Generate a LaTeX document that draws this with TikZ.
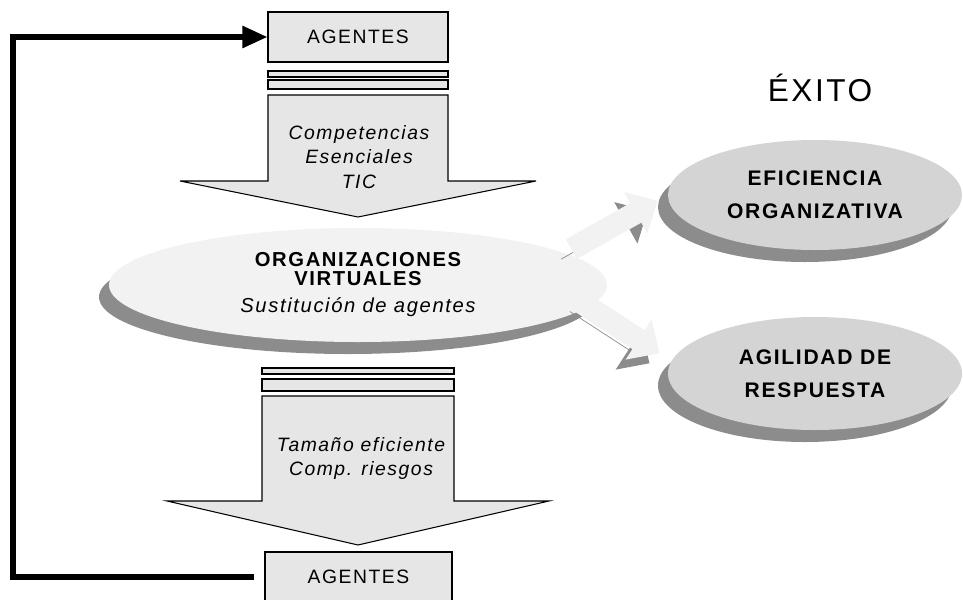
\documentclass[tikz,border=0pt]{standalone}
\usepackage{fontspec}
\setmainfont{Liberation Sans}[LetterSpace=8]
\usepackage{tikz}
\usetikzlibrary{arrows.meta,shapes.geometric,shadows,calc,positioning}
\usepackage{xcolor}
\definecolor{boxgray}{HTML}{E6E6E6}
\definecolor{palegray}{HTML}{F2F2F2}
\definecolor{midgray}{HTML}{D4D4D4}
\definecolor{shadowgray}{HTML}{8C8C8C}

\begin{document}
\begin{tikzpicture}[
	box/.style={draw, line width=0.6pt, fill=boxgray, minimum width=3.6cm, minimum height=1cm,
		inner sep=0pt, font=\fontsize{11}{12}\selectfont},
	bar/.style={draw, line width=0.6pt, fill=boxgray},
	downarr/.style={draw, line width=0.6pt, fill=boxgray},
	oval/.style={ellipse, inner sep=0pt, align=center,
		drop shadow={shadow xshift=-0.2cm, shadow yshift=-0.24cm, fill=shadowgray, opacity=1}},
	blk/.style={draw=palegray, line width=0.45cm,
		-{Triangle[length=0.5cm 0 0, width=0.92cm 0 0]},
		preaction={draw=shadowgray, transform canvas={xshift=-0.2cm, yshift=-0.2cm}}},
	fb/.style={line width=3.1pt, -{Triangle[length=0.5cm 0 0, width=0.42cm 0 0]}}
]
	\useasboundingbox (0,0) rectangle (19.26,-11.98);

	% Agentes (arriba)
	\node[box] (agtop) at (7.16, -0.74) {AGENTES};
	\draw[bar] (5.36, -1.42) rectangle (8.96, -1.54);
	\draw[bar] (5.36, -1.60) rectangle (8.96, -1.78);
	\draw[downarr] (5.36, -1.90) -- (8.96, -1.90) -- (8.96, -3.62) -- (10.72, -3.62)
		-- (7.16, -4.34) -- (3.60, -3.62) -- (5.36, -3.62) -- cycle;
	\node[align=center, font=\fontsize{11}{13.9}\selectfont\itshape] (comp) at (7.18, -3.14)
		{Competencias\\ Esenciales\\ TIC};

	% Organizaciones virtuales
	\node[oval, fill=palegray, minimum width=9.96cm, minimum height=2.28cm,
		font=\fontsize{11.5}{10.8}\selectfont] (org) at (7.16, -5.70)
		{\bfseries ORGANIZACIONES\\ \bfseries VIRTUALES\\[4.6pt] \itshape Sustitución de agentes};

	% Agentes (abajo)
	\draw[bar] (5.24, -7.36) rectangle (9.08, -7.48);
	\draw[bar] (5.24, -7.58) rectangle (9.08, -7.82);
	\draw[downarr] (5.24, -7.92) -- (9.08, -7.92) -- (9.08, -10.02) -- (10.98, -10.02)
		-- (7.16, -10.90) -- (3.34, -10.02) -- (5.24, -10.02) -- cycle;
	\node[align=center, font=\fontsize{11}{14.2}\selectfont\itshape] (tam) at (7.22, -9.17)
		{Tamaño eficiente\\ Comp. riesgos};
	\node[box, minimum width=3.74cm, minimum height=1.0cm] (agbot) at (7.17, -11.54) {AGENTES};

	% Exito
	\node[font=\fontsize{18}{20}\selectfont] (exito) at (16.4, -1.76) {ÉXITO};
	\node[oval, fill=midgray, minimum width=5.88cm, minimum height=2.2cm,
		font=\fontsize{12}{18.7}\selectfont\bfseries] (efi) at (16.3, -3.90)
		{EFICIENCIA\\ ORGANIZATIVA};
	\node[oval, fill=midgray, minimum width=5.88cm, minimum height=2.26cm,
		font=\fontsize{12}{18.7}\selectfont\bfseries] (agi) at (16.3, -7.47)
		{AGILIDAD DE\\ RESPUESTA};

	% Flechas de bloque
	\coordinate (a1) at ($(org.east)+(-0.72, 0.72)$);
	\coordinate (a2) at ($(org.east)+(-0.55, -0.33)$);
	\draw[blk, shorten >=0.23cm] (a1) -- (efi.west);
	\draw[blk, shorten >=0.28cm] (a2) -- (agi.175);

	% Realimentacion
	\coordinate (loop) at (0.26, 0);
	\draw[fb, shorten <=0.2cm] (agbot.west) -- (agbot.west -| loop)
		-- (agtop.west -| loop) -- (agtop.west);
\end{tikzpicture}
\end{document}
